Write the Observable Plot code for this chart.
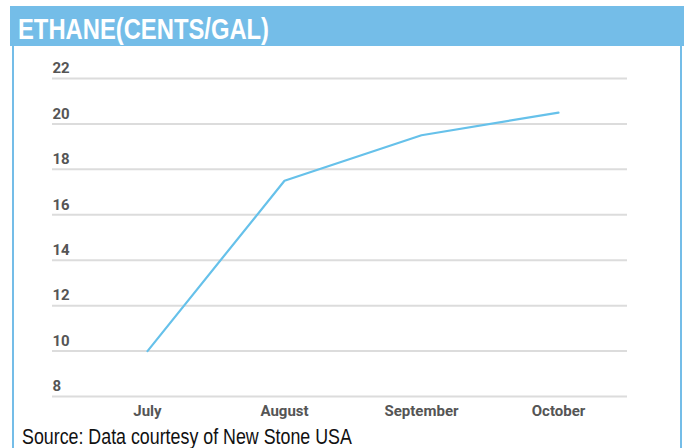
<!DOCTYPE html>
<html>
<head>
<meta charset="utf-8">
<script src="https://cdn.jsdelivr.net/npm/d3@7"></script>
<script src="https://cdn.jsdelivr.net/npm/@observablehq/plot@0.6"></script>
<style>
  html, body { margin: 0; padding: 0; background: #fff; width: 684px; height: 448px; overflow: hidden; }
  #titlebar { position: absolute; left: 10px; top: 6px; width: 674px; height: 40px; background: #74bde8; }
  #title { position: absolute; left: 8px; top: 7px; line-height: 1; color: #fff; font: bold 29px "Liberation Sans", Arial, sans-serif; white-space: nowrap; transform: scaleX(0.82); transform-origin: 0 0; }
  #panel { position: absolute; left: 12px; top: 46px; width: 666px; height: 420px; border-left: 2px solid #74bde8; border-right: 2px solid #74bde8; }
  #chart { position: absolute; left: 0; top: 45px; }
  #source { position: absolute; left: 22px; top: 424px; line-height: 1; font: 22px "Liberation Sans", Arial, sans-serif; color: #111; white-space: nowrap; transform: scaleX(0.81); transform-origin: 0 0; }
</style>
</head>
<body>
<div id="titlebar"><div id="title">ETHANE(CENTS/GAL)</div></div>
<div id="panel"></div>
<div id="chart"></div>
<div id="source">Source: Data courtesy of New Stone USA</div>
<script>
const months = ["July", "August", "September", "October"];
const values = [10.0, 17.5, 19.5, 20.5];
const yTicks = [8, 10, 12, 14, 16, 18, 20, 22];

const data = months.map((m, i) => ({month: m, value: values[i]}));

const chart = Plot.plot({
  width: 684,
  height: 380,
  marginLeft: 52,
  marginRight: 57,
  marginTop: 33,
  marginBottom: 29,
  style: {background: "transparent", fontFamily: "Roboto, sans-serif"},
  x: {type: "point", domain: months, padding: 0, insetLeft: 94, insetRight: 69},
  y: {domain: [8, 22]},
  marks: [
    Plot.gridY(yTicks, {stroke: "#dcdcdc", strokeOpacity: 1, strokeWidth: 2}),
    Plot.axisY(yTicks, {anchor: "left", tickSize: 0, tickPadding: 0, textAnchor: "start", dy: -10, fontSize: 15, fontWeight: "bold", fill: "#555", label: null}),
    Plot.axisX({tickSize: 0, tickPadding: 9, fontSize: 15, fontWeight: "bold", fill: "#555", label: null}),
    Plot.line(data, {x: "month", y: "value", stroke: "#66c1ea", strokeWidth: 2.2})
  ]
});
document.getElementById("chart").appendChild(chart);
</script>
</body>
</html>
